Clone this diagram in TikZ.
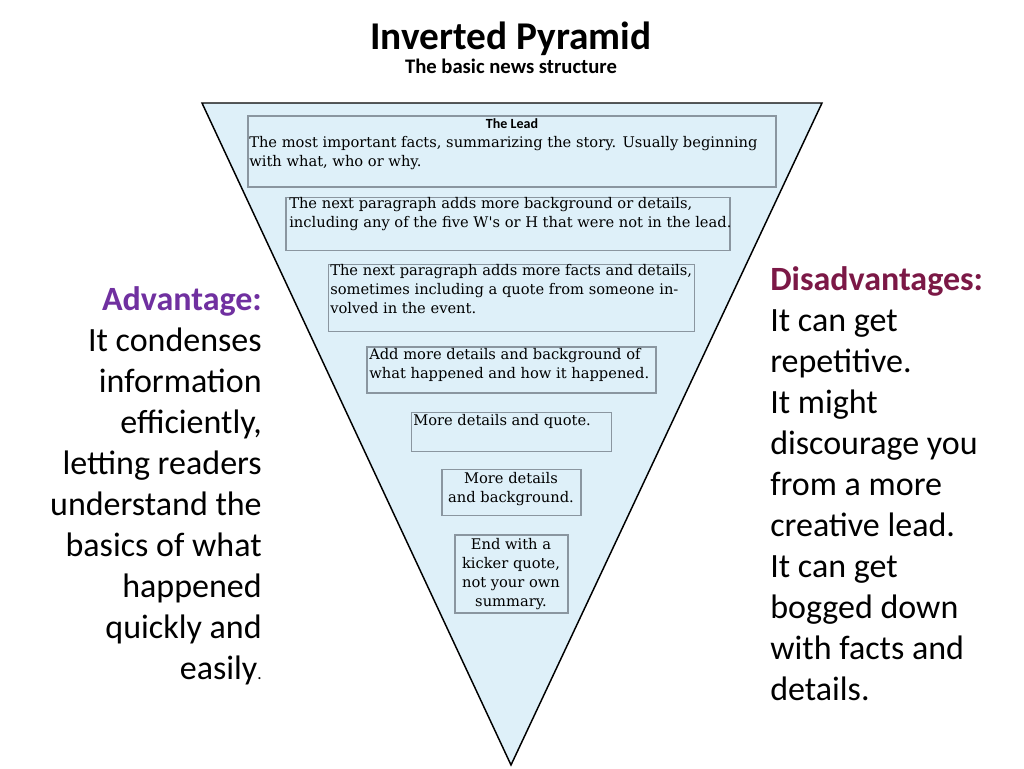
\documentclass[tikz,border=0pt]{standalone}
\usepackage{fontspec}
\setmainfont{Carlito}
\newfontfamily\boxfont{DejaVu Serif}
\usetikzlibrary{positioning}
\definecolor{pyrfill}{RGB}{222,240,249}
\definecolor{boxline}{RGB}{138,150,160}
\definecolor{advpurple}{RGB}{112,48,160}
\definecolor{disred}{RGB}{123,24,70}
\tikzset{%
	pyramid/.style  = {draw=black, fill=pyrfill, line width=1.1pt, line join=miter},
	stepbox/.style  = {draw=boxline, fill=pyrfill, line width=1pt, inner sep=0pt},
	boxtext/.style  = {font=\boxfont\fontsize{11}{14.25}\selectfont, inner sep=0pt, align=left},
	sidetext/.style = {font=\fontsize{25.5}{30.75}\selectfont, inner sep=0pt},
}

\begin{document}
\begin{tikzpicture}[x=0.75pt,y=-0.75pt]
	\useasboundingbox (0,0) rectangle (1024,768);
	% heading
	\node [anchor=base,font=\bfseries\fontsize{29.5}{30}\selectfont] (title) at (511,49) {Inverted Pyramid};
	\node [anchor=base,font=\bfseries\fontsize{15.5}{16}\selectfont] (subtitle) at (511,73) {The basic news structure};
	
	% the pyramid
	\coordinate (tl) at (202,103);
	\coordinate (tr) at (822,103);
	\coordinate (apex) at (511,765);
	\draw [pyramid] (tl) -- (tr) -- (apex) -- cycle;
	
	% steps, top to bottom
	\node [stepbox,minimum width=396pt,minimum height=53.25pt] (lead) at (512,151.5) {};
	\node [stepbox,minimum width=333pt,minimum height=39.75pt,below=6.75pt of lead,xshift=-3pt] (para2) {};
	\node [stepbox,minimum width=274.5pt,minimum height=50.25pt,below=9.75pt of para2,xshift=2.5pt] (para3) {};
	\node [stepbox,minimum width=216.75pt,minimum height=34.5pt,below=10.5pt of para3] (para4) {};
	\node [stepbox,minimum width=150pt,minimum height=29.25pt,below=13.5pt of para4] (para5) {};
	\node [stepbox,minimum width=104.25pt,minimum height=34.5pt,below=12.75pt of para5] (para6) {};
	\node [stepbox,minimum width=84.75pt,minimum height=58.5pt,below=13.5pt of para6] (kicker) {};
	
	\node [anchor=north,inner sep=0pt,font=\bfseries\fontsize{10.5}{11}\selectfont] (leadhead) at ([yshift=-2.6pt]lead.north) {The Lead};
	\node [boxtext,anchor=north west] (leadtxt) at (249,136) {The most important facts, summarizing the story. Usually beginning\\with what, who or why.};
	\node [boxtext,anchor=north west] (para2txt) at (289,197) {The next paragraph adds more background or details,\\including any of the five W's or H that were not in the lead.};
	\node [boxtext,anchor=north west] (para3txt) at (330,264) {The next paragraph adds more facts and details,\\sometimes including a quote from someone in-\\volved in the event.};
	\node [boxtext,anchor=north west] (para4txt) at (369,348) {Add more details and background of\\what happened and how it happened.};
	\node [boxtext,anchor=north west] (para5txt) at (413,414) {More details and quote.};
	\node [boxtext,align=center,anchor=north] (para6txt) at (511,472) {More details\\and background.};
	\node [boxtext,align=center,anchor=north] (kickertxt) at (511,538) {End with a\\kicker quote,\\not your own\\summary.};
	
	% pros and cons
	\node [sidetext,align=right,anchor=north east] (adv) at (262,286) {\textcolor{advpurple}{\bfseries Advantage:}\\It condenses\\information\\efficiently,\\letting readers\\understand the\\basics of what\\happened\\quickly and\\easily{\fontsize{13}{13}\selectfont.}};
	\node [sidetext,align=left,anchor=north west] (disadv) at (770,266) {\textcolor{disred}{\bfseries Disadvantages:}\\It can get\\repetitive.\\It might\\discourage you\\from a more\\creative lead.\\It can get\\bogged down\\with facts and\\details.};
\end{tikzpicture}
\end{document}
